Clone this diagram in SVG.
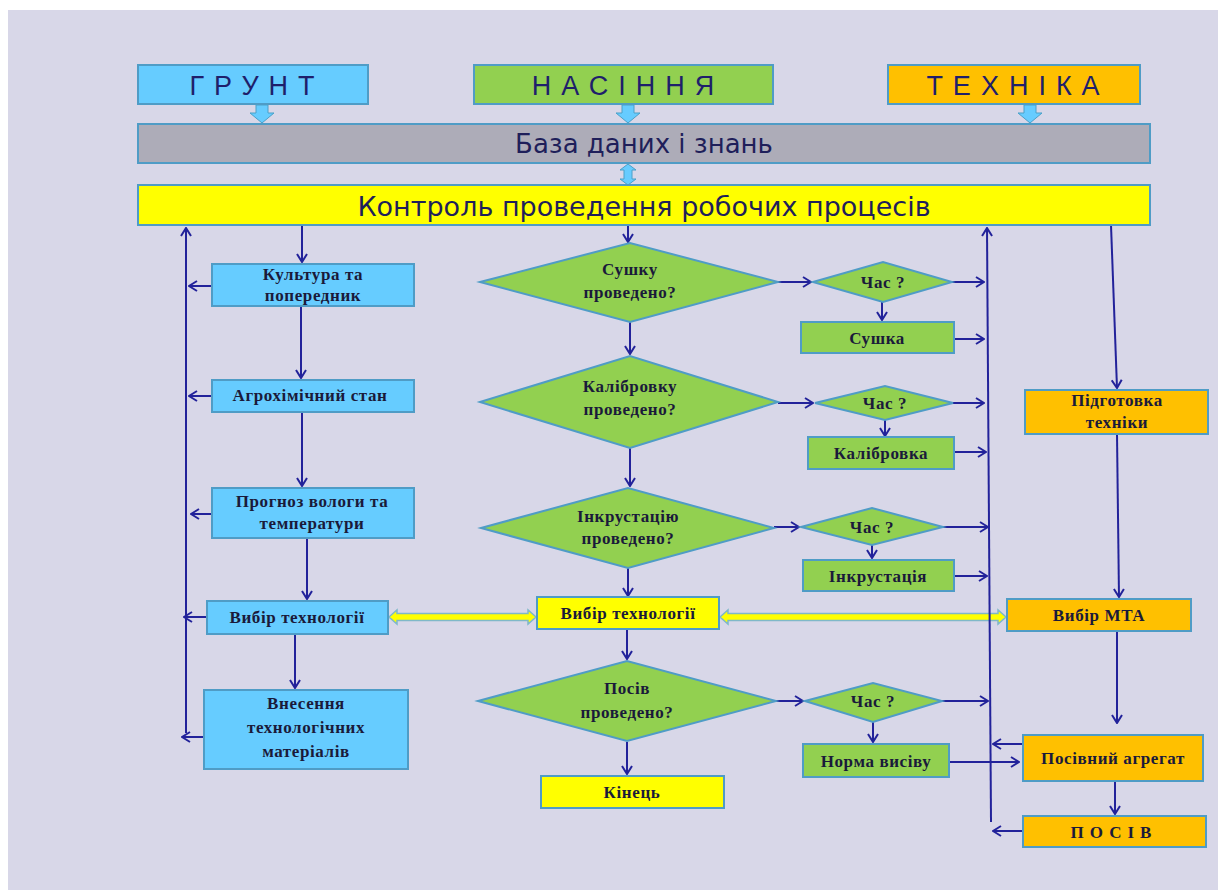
<svg xmlns="http://www.w3.org/2000/svg" width="1218" height="890" viewBox="0 0 1218 890">
<defs>
<style>
.bg{fill:#D8D7E8}
.box{stroke:#4F9CC6;stroke-width:2}
.blue{fill:#66CCFF}
.green{fill:#92D050}
.orange{fill:#FFC000}
.yellow{fill:#FFFF00}
.grey{fill:#ADACB8}
.hdr{font-family:"Liberation Sans",Arial,sans-serif;font-size:27px;fill:#1F1F6B;text-anchor:middle;letter-spacing:10px}
.big{font-family:"DejaVu Sans",Verdana,sans-serif;fill:#1F1F5A;text-anchor:middle}
.t{font-family:"Liberation Serif","Times New Roman",serif;font-size:17px;font-weight:bold;fill:#1A1A3A;text-anchor:middle;letter-spacing:0.6px}
.c{fill:none;stroke:#22229A;stroke-width:2}
.ba{fill:#66CCFF;stroke:#4AA0C8;stroke-width:1}
.ya{fill:#FFFF00;stroke:#7FB8C8;stroke-width:1.5}
</style>
<marker id="a" viewBox="0 0 10 12" refX="9" refY="6" markerWidth="10" markerHeight="12" orient="auto" markerUnits="userSpaceOnUse">
<path d="M1,1 L9,6 L1,11" fill="none" stroke="#22229A" stroke-width="2"/>
</marker>
</defs>
<rect x="0" y="0" width="1218" height="890" fill="#FFFFFF"/>
<rect class="bg" x="8" y="10" width="1210" height="880"/>

<g id="connectors">
<path class="ba" d="M256,105 H268 V113 H274 L262,123 L250,113 H256 Z"/>
<path class="ba" d="M622,105 H634 V113 H640 L628,123 L616,113 H622 Z"/>
<path class="ba" d="M1024,105 H1036 V113 H1042 L1030,123 L1018,113 H1024 Z"/>
<path class="ba" d="M628,164 L636,170 H632 V179 H636 L628,185 L620,179 H624 V170 H620 Z"/>
<path class="ya" d="M389,617 L397,610 V613.5 H528 V610 L536,617 L528,624 V620.5 H397 V624 Z"/>
<path class="ya" d="M720,617 L728,610 V613.5 H998 V610 L1006,617 L998,624 V620.5 H728 V624 Z"/>
<path class="c" marker-end="url(#a)" d="M302,225 V262"/>
<path class="c" marker-end="url(#a)" d="M301,306 V378"/>
<path class="c" marker-end="url(#a)" d="M302,412 V486"/>
<path class="c" marker-end="url(#a)" d="M307,538 V599"/>
<path class="c" marker-end="url(#a)" d="M295,634 V688"/>
<path class="c" marker-end="url(#a)" d="M186,733 V228"/>
<path class="c" marker-end="url(#a)" d="M212,286 H189"/>
<path class="c" marker-end="url(#a)" d="M212,396 H189"/>
<path class="c" marker-end="url(#a)" d="M212,514 H191"/>
<path class="c" marker-end="url(#a)" d="M207,617 H184"/>
<path class="c" marker-end="url(#a)" d="M204,737 H182"/>
<path class="c" marker-end="url(#a)" d="M628,225 V242"/>
<path class="c" marker-end="url(#a)" d="M630,322 V354"/>
<path class="c" marker-end="url(#a)" d="M630,448 V486"/>
<path class="c" marker-end="url(#a)" d="M628,568 V596"/>
<path class="c" marker-end="url(#a)" d="M627,629 V659"/>
<path class="c" marker-end="url(#a)" d="M627,742 V774"/>
<path class="c" marker-end="url(#a)" d="M778,282 H811"/>
<path class="c" marker-end="url(#a)" d="M952,282 H984"/>
<path class="c" marker-end="url(#a)" d="M882,302 V320"/>
<path class="c" marker-end="url(#a)" d="M954,339 H984"/>
<path class="c" marker-end="url(#a)" d="M778,403 H813"/>
<path class="c" marker-end="url(#a)" d="M953,403 H984"/>
<path class="c" marker-end="url(#a)" d="M885,420 V436"/>
<path class="c" marker-end="url(#a)" d="M954,452 H986"/>
<path class="c" marker-end="url(#a)" d="M774,527 H799"/>
<path class="c" marker-end="url(#a)" d="M943,527 H988"/>
<path class="c" marker-end="url(#a)" d="M872,545 V558"/>
<path class="c" marker-end="url(#a)" d="M954,576 H987"/>
<path class="c" marker-end="url(#a)" d="M776,701 H803"/>
<path class="c" marker-end="url(#a)" d="M942,701 H988"/>
<path class="c" marker-end="url(#a)" d="M873,722 V742"/>
<path class="c" marker-end="url(#a)" d="M949,762 H1019"/>
<path class="c" marker-end="url(#a)" d="M991,822 L987,228"/>
<path class="c" marker-end="url(#a)" d="M1023,744 H993"/>
<path class="c" marker-end="url(#a)" d="M1023,831 H993"/>
<path class="c" marker-end="url(#a)" d="M1111,225 L1117,388"/>
<path class="c" marker-end="url(#a)" d="M1117,434 L1119,597"/>
<path class="c" marker-end="url(#a)" d="M1117,631 V723"/>
<path class="c" marker-end="url(#a)" d="M1115,781 V814"/>
</g>

<g id="grunt"><rect class="box blue" x="138" y="65" width="230" height="39"/><text class="hdr" x="257" y="95">ГРУНТ</text></g>
<g id="nasinnia"><rect class="box green" x="474" y="65" width="299" height="39"/><text class="hdr" x="628" y="95">НАСІННЯ</text></g>
<g id="tekhnika"><rect class="box orange" x="888" y="65" width="252" height="39"/><text class="hdr" x="1018" y="95">ТЕХНІКА</text></g>
<g id="baza"><rect class="box grey" x="138" y="124" width="1012" height="39"/><text class="big" x="644" y="153" font-size="26">База  даних і знань</text></g>
<g id="kontrol"><rect class="box yellow" x="138" y="185" width="1012" height="40"/><text class="big" x="644" y="216" font-size="27">Контроль  проведення робочих процесів</text></g>

<g id="kultura"><rect class="box blue" x="212" y="264" width="202" height="42"/><text class="t" x="313" y="280">Культура та</text><text class="t" x="313" y="301">попередник</text></g>
<g id="agro"><rect class="box blue" x="212" y="380" width="202" height="32"/><text class="t" x="310" y="401">Агрохімічний  стан</text></g>
<g id="prognoz"><rect class="box blue" x="212" y="488" width="202" height="50"/><text class="t" x="312" y="507">Прогноз вологи та</text><text class="t" x="312" y="529">температури</text></g>
<g id="vybir1"><rect class="box blue" x="207" y="601" width="181" height="33"/><text class="t" x="297" y="623">Вибір  технології</text></g>
<g id="vnesennia"><rect class="box blue" x="204" y="690" width="204" height="79"/><text class="t" x="306" y="709">Внесення</text><text class="t" x="306" y="733">технологічних</text><text class="t" x="306" y="757">матеріалів</text></g>

<g id="sushku"><polygon class="box green" points="480,282 630,243 778,282 630,322"/><text class="t" x="630" y="275">Сушку</text><text class="t" x="630" y="298">проведено?</text></g>
<g id="kalibrovku"><polygon class="box green" points="480,402 630,356 778,402 630,448"/><text class="t" x="630" y="392">Калібровку</text><text class="t" x="630" y="415">проведено?</text></g>
<g id="inkrustatsiiu"><polygon class="box green" points="481,528 628,488 774,528 628,568"/><text class="t" x="628" y="522">Інкрустацію</text><text class="t" x="628" y="544">проведено?</text></g>
<g id="vybir2"><rect class="box yellow" x="537" y="597" width="182" height="32"/><text class="t" x="628" y="619">Вибір  технології</text></g>
<g id="posiv-q"><polygon class="box green" points="478,701 627,661 776,701 627,741"/><text class="t" x="627" y="694">Посів</text><text class="t" x="627" y="718">проведено?</text></g>
<g id="kinets"><rect class="box yellow" x="541" y="776" width="183" height="32"/><text class="t" x="632" y="798">Кінець</text></g>

<g id="chas1"><polygon class="box green" points="813,282 883,262 952,282 883,302"/><text class="t" x="883" y="288">Час ?</text></g>
<g id="sushka"><rect class="box green" x="801" y="322" width="153" height="31"/><text class="t" x="877" y="344">Сушка</text></g>
<g id="chas2"><polygon class="box green" points="815,403 885,386 953,403 885,420"/><text class="t" x="885" y="409">Час ?</text></g>
<g id="kalibrovka"><rect class="box green" x="808" y="437" width="146" height="32"/><text class="t" x="881" y="459">Калібровка</text></g>
<g id="chas3"><polygon class="box green" points="801,527 872,508 943,527 872,545"/><text class="t" x="872" y="533">Час ?</text></g>
<g id="inkrustatsiia"><rect class="box green" x="803" y="560" width="151" height="31"/><text class="t" x="878" y="582">Інкрустація</text></g>
<g id="chas4"><polygon class="box green" points="805,701 873,683 942,701 873,722"/><text class="t" x="873" y="707">Час ?</text></g>
<g id="norma"><rect class="box green" x="803" y="744" width="146" height="33"/><text class="t" x="876" y="767">Норма висіву</text></g>

<g id="pidgotovka"><rect class="box orange" x="1025" y="390" width="183" height="44"/><text class="t" x="1117" y="406">Підготовка</text><text class="t" x="1117" y="428">техніки</text></g>
<g id="vybir-mta"><rect class="box orange" x="1007" y="599" width="184" height="32"/><text class="t" x="1099" y="621">Вибір  МТА</text></g>
<g id="agregat"><rect class="box orange" x="1023" y="735" width="180" height="46"/><text class="t" x="1113" y="764">Посівний агрегат</text></g>
<g id="posiv"><rect class="box orange" x="1023" y="816" width="183" height="31"/><text class="t" x="1114" y="838" style="letter-spacing:6px">ПОСІВ</text></g>
</svg>
